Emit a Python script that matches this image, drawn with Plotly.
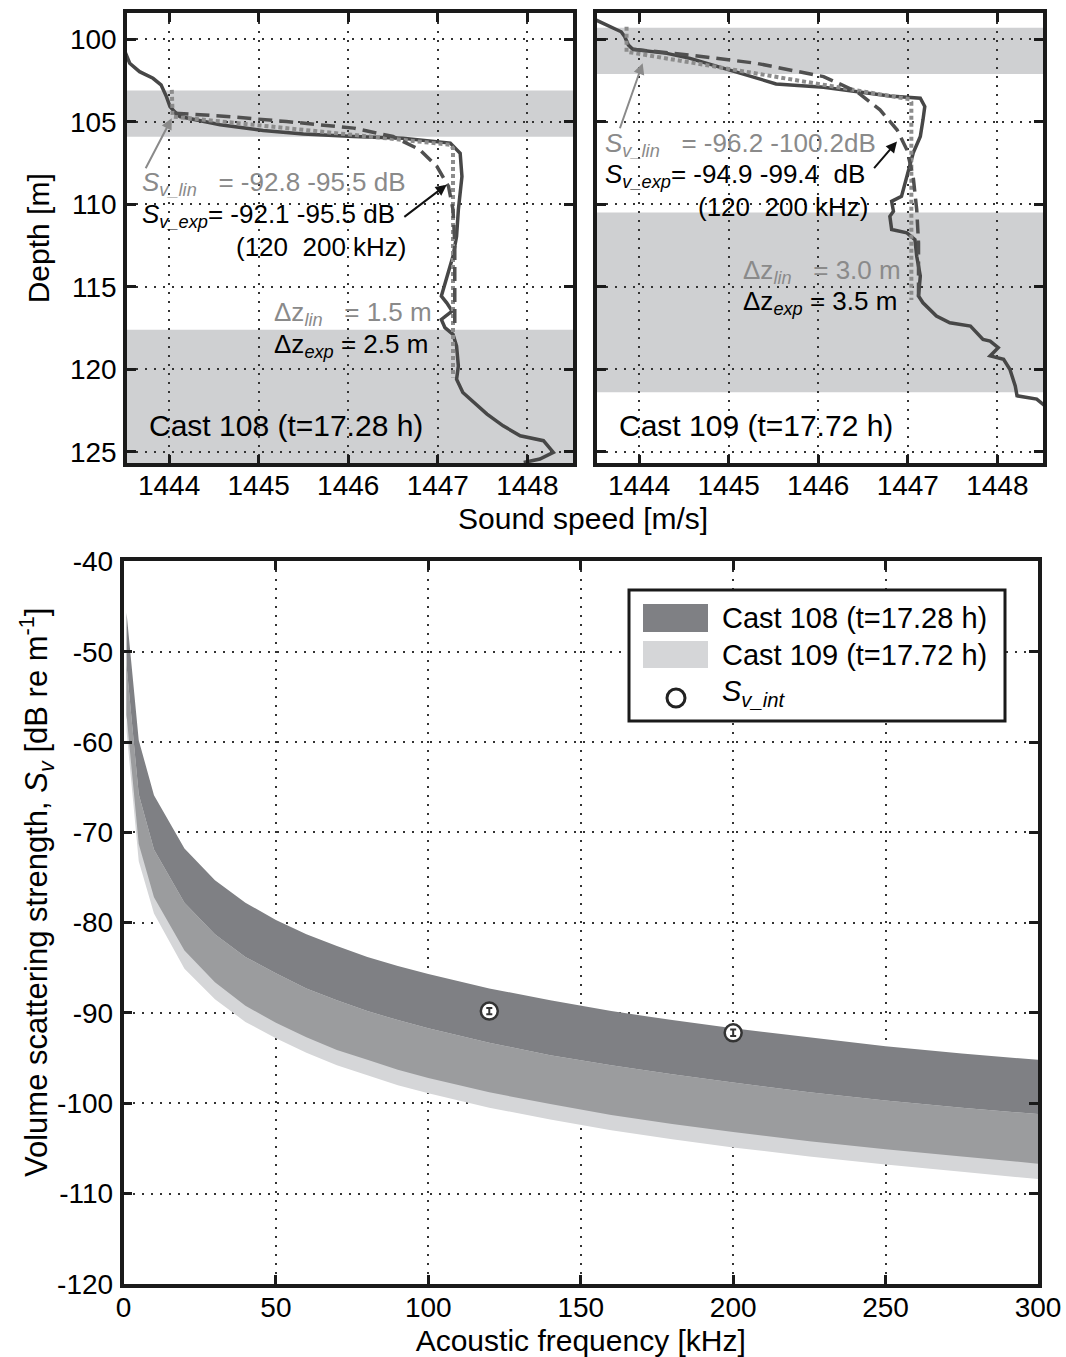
import plotly.graph_objects as go

W, H = 1066, 1357

# ---------------- Top panels: sound speed profiles ----------------
# Cast 108 measured profile (speed m/s, depth m)
c108 = [1443.45, 1443.50, 1443.56, 1443.67, 1443.82, 1443.91, 1443.97, 1444.01, 1444.06, 1444.12,
        1444.57, 1445.05, 1445.50, 1446.06, 1446.61, 1447.14, 1447.25, 1447.27, 1447.23, 1447.21,
        1447.17, 1447.12, 1447.04, 1447.10, 1447.16, 1447.04, 1447.08, 1447.17, 1447.21, 1447.23,
        1447.21, 1447.28, 1447.40, 1447.55, 1447.73, 1447.92, 1448.18, 1448.29, 1448.14, 1447.96]
z108 = [100.40, 100.65, 101.45, 101.96, 102.36, 102.76, 103.47, 104.07, 104.38, 104.68,
        105.18, 105.52, 105.73, 105.89, 105.99, 106.29, 106.90, 108.31, 110.32, 111.94,
        113.15, 114.15, 115.56, 115.97, 116.47, 116.98, 117.48, 117.88, 118.59, 119.80,
        120.60, 121.41, 122.02, 122.72, 123.43, 124.03, 124.33, 125.04, 125.44, 125.65]
# Cast 108 linear model
lin108_c = [1444.03, 1444.04, 1447.14, 1447.17, 1447.17]
lin108_z = [103.06, 104.68, 106.39, 106.60, 120.50]
# Cast 108 exponential model
exp108_c = [1444.06, 1444.57, 1445.31, 1446.06, 1446.50, 1446.80, 1446.99, 1447.12, 1447.17, 1447.19, 1447.19]
exp108_z = [104.48, 104.64, 104.98, 105.38, 105.89, 106.69, 107.70, 108.91, 110.32, 112.34, 117.40]

# Cast 109 measured profile
c109 = [1443.52, 1443.64, 1443.80, 1443.84, 1443.88, 1443.93, 1444.31, 1444.57, 1445.12, 1445.53,
        1446.06, 1446.43, 1446.80, 1447.14, 1447.19, 1447.17, 1447.14, 1447.06, 1446.99, 1446.93,
        1446.82, 1446.84, 1446.80, 1446.82, 1446.99, 1447.08, 1447.10, 1447.14, 1447.12, 1447.17,
        1447.32, 1447.47, 1447.70, 1447.79, 1447.84, 1447.92, 1448.01, 1447.92, 1448.07, 1448.14,
        1448.20, 1448.22, 1448.44, 1448.55]
z109 = [98.83, 99.13, 99.54, 99.84, 100.34, 100.60, 100.85, 101.15, 102.06, 102.70,
        102.90, 103.17, 103.43, 103.57, 104.07, 104.88, 105.89, 106.90, 108.31, 109.52,
        109.82, 110.42, 110.73, 111.53, 111.73, 112.14, 113.15, 114.35, 115.56, 115.97,
        116.77, 117.18, 117.38, 117.88, 118.19, 118.29, 118.69, 119.19, 119.40, 120.00,
        121.01, 121.61, 121.81, 122.30]
lin109_c = [1443.86, 1443.86, 1447.02, 1447.04, 1447.04]
lin109_z = [99.23, 100.75, 103.63, 103.80, 115.80]
exp109_c = [1443.93, 1444.57, 1445.31, 1446.06, 1446.43, 1446.69, 1446.88, 1446.99, 1447.06, 1447.10, 1447.12, 1447.12]
exp109_z = [100.60, 100.95, 101.45, 102.26, 103.17, 104.27, 105.48, 106.69, 108.31, 110.32, 112.34, 115.77]

# shaded depth layers (top, bottom)
band108 = [(103.1, 105.9), (117.6, 126.5)]
band109 = [(99.3, 102.1), (110.5, 121.4)]

speed_ticks = [1444, 1445, 1446, 1447, 1448]
depth_ticks = [100, 105, 110, 115, 120, 125]

# ---------------- Bottom panel: Sv vs frequency ----------------
freq = [1, 5, 10, 20, 30, 40, 50, 60, 70, 80, 90, 100, 120, 140, 160, 180, 200, 225, 250, 275, 300]
sv108_hi = [-45.7, -59.8, -65.9, -71.8, -75.3, -77.8, -79.7, -81.3, -82.6, -83.8, -84.8, -85.7,
            -87.3, -88.6, -89.8, -90.8, -91.7, -92.7, -93.7, -94.5, -95.2]
sv108_lo = [-57.0, -71.3, -77.2, -83.1, -86.6, -89.2, -91.1, -92.7, -94.1, -95.2, -96.3, -97.2,
            -98.8, -100.1, -101.3, -102.3, -103.2, -104.2, -105.1, -105.9, -106.7]
sv109_hi = [-51.5, -65.8, -71.9, -77.8, -81.3, -83.8, -85.6, -87.3, -88.6, -89.8, -90.8, -91.7,
            -93.3, -94.7, -95.8, -96.8, -97.7, -98.8, -99.7, -100.5, -101.2]
sv109_lo = [-58.8, -73.2, -79.0, -85.1, -88.5, -91.0, -92.8, -94.4, -95.8, -96.9, -98.0, -98.9,
            -100.5, -101.8, -103.0, -104.0, -104.9, -105.9, -106.8, -107.6, -108.4]
sv_int_f = [120, 200]
sv_int = [-89.8, -92.2]
sv_int_err = [0.35, 0.35]

sv_ticks = [-40, -50, -60, -70, -80, -90, -100, -110, -120]
f_ticks = [0, 50, 100, 150, 200, 250, 300]

# ---------------- styles ----------------
FONT = "Liberation Sans, Arial, sans-serif"
DARK = "#7f8084"
MID = "#9b9c9e"
LIGHT = "#d5d6d8"
BAND = "#cfd0d2"
GREYTXT = "#8a8a8a"
LINEC = "#474747"
AXC = "#1a1a1a"


def px_x(p):
    return p / W


def px_y(p):
    return 1 - p / H


fig = go.Figure()

# profiles
for (cs, zs, cl, zl, ce, ze, xa, ya) in [
    (c108, z108, lin108_c, lin108_z, exp108_c, exp108_z, "x", "y"),
    (c109, z109, lin109_c, lin109_z, exp109_c, exp109_z, "x2", "y2"),
]:
    fig.add_trace(go.Scatter(x=cs, y=zs, mode="lines", xaxis=xa, yaxis=ya,
                             line=dict(color=LINEC, width=3.5), showlegend=False))
    fig.add_trace(go.Scatter(x=cl, y=zl, mode="lines", xaxis=xa, yaxis=ya,
                             line=dict(color="#8c8c8c", width=4, dash="4px,3px"), showlegend=False))
    fig.add_trace(go.Scatter(x=ce, y=ze, mode="lines", xaxis=xa, yaxis=ya,
                             line=dict(color="#505050", width=3.5, dash="14px,7px"), showlegend=False))

# Sv bands
fig.add_trace(go.Scatter(x=freq + freq[::-1], y=sv108_hi + sv108_lo[::-1], fill="toself",
                         fillcolor=DARK, mode="lines", line=dict(width=0, color=DARK),
                         xaxis="x3", yaxis="y3", name="Cast 108 (t=17.28 h)", showlegend=False))
fig.add_trace(go.Scatter(x=freq + freq[::-1], y=sv109_hi + sv109_lo[::-1], fill="toself",
                         fillcolor=LIGHT, mode="lines", line=dict(width=0, color=LIGHT),
                         xaxis="x3", yaxis="y3", name="Cast 109 (t=17.72 h)", showlegend=False))
fig.add_trace(go.Scatter(x=freq + freq[::-1], y=sv109_hi + sv108_lo[::-1], fill="toself",
                         fillcolor=MID, mode="lines", line=dict(width=0, color=MID),
                         xaxis="x3", yaxis="y3", showlegend=False, hoverinfo="skip"))
fig.add_trace(go.Scatter(x=sv_int_f, y=sv_int, mode="markers", xaxis="x3", yaxis="y3",
                         marker=dict(size=17, color="white", line=dict(color="#333333", width=2.5)),
                         name="Sv_int", showlegend=False))
fig.add_trace(go.Scatter(x=sv_int_f, y=sv_int, mode="markers", xaxis="x3", yaxis="y3",
                         marker=dict(size=1, color="rgba(0,0,0,0)"),
                         error_y=dict(type="data", array=sv_int_err, color="#333333",
                                      thickness=2, width=3),
                         showlegend=False, hoverinfo="skip"))

axis_common = dict(showline=True, linewidth=3.5, linecolor=AXC, mirror="allticks",
                   ticks="inside", ticklen=9, tickwidth=3, tickcolor=AXC, automargin=False,
                   showgrid=True, gridcolor="#333333", gridwidth=1.5, griddash="2px,7px",
                   zeroline=False, tickfont=dict(size=28, color="black", family=FONT))

xr = [1443.53, 1448.51]
yr = [125.70, 98.42]
dom_x1 = [px_x(127), px_x(573)]
dom_x2 = [px_x(597), px_x(1043)]
dom_top = [px_y(463.3), px_y(13.3)]

fig.update_layout(
    template="none",
    width=W, height=H, margin=dict(l=0, r=0, t=0, b=0, autoexpand=False),
    paper_bgcolor="white", plot_bgcolor="white",
    font=dict(family=FONT, size=28, color="black"),
    showlegend=False,
    xaxis=dict(axis_common, domain=dom_x1, anchor="y", range=xr,
               tickvals=speed_ticks, ticktext=[str(v) for v in speed_ticks], ticklabelstandoff=-6),
    yaxis=dict(axis_common, domain=dom_top, anchor="x", range=yr,
               tickvals=depth_ticks, ticktext=[str(v) for v in depth_ticks], ticklabelstandoff=1,
               title=dict(text="Depth [m]", font=dict(size=30), standoff=12)),
    xaxis2=dict(axis_common, domain=dom_x2, anchor="y2", range=xr,
                tickvals=speed_ticks, ticktext=[str(v) for v in speed_ticks], ticklabelstandoff=-6),
    yaxis2=dict(axis_common, domain=dom_top, anchor="x2", range=yr,
                tickvals=depth_ticks, showticklabels=False),
    xaxis3=dict(axis_common, domain=[px_x(123.5), px_x(1038)], anchor="y3", range=[0, 300],
                tickvals=f_ticks, ticktext=[str(v) for v in f_ticks], ticklabelstandoff=-4,
                title=dict(text="Acoustic frequency [kHz]", font=dict(size=30), standoff=11)),
    yaxis3=dict(axis_common, domain=[px_y(1283.8), px_y(561.4)], anchor="x3", range=[-120, -40],
                tickvals=sv_ticks, ticktext=[str(v) for v in sv_ticks], ticklabelstandoff=1),
)

shapes = []
for bands, xd, ya in [(band108, "x domain", "y"), (band109, "x2 domain", "y2")]:
    for (z0, z1) in bands:
        shapes.append(dict(type="rect", xref=xd, yref=ya, x0=0, x1=1, y0=z0, y1=z1,
                           fillcolor=BAND, line=dict(width=0), layer="below"))

# manual legend box
shapes.append(dict(type="rect", xref="paper", yref="paper", x0=px_x(629), x1=px_x(1005),
                   y0=px_y(721), y1=px_y(590), fillcolor="white",
                   line=dict(color=AXC, width=3), layer="above"))
shapes.append(dict(type="rect", xref="paper", yref="paper", x0=px_x(643), x1=px_x(708),
                   y0=px_y(632), y1=px_y(604), fillcolor=DARK, line=dict(width=0), layer="above"))
shapes.append(dict(type="rect", xref="paper", yref="paper", x0=px_x(643), x1=px_x(708),
                   y0=px_y(668), y1=px_y(641), fillcolor=LIGHT, line=dict(width=0), layer="above"))
shapes.append(dict(type="circle", xref="paper", yref="paper", x0=px_x(667), x1=px_x(685),
                   y0=px_y(707), y1=px_y(689), fillcolor="white",
                   line=dict(color="#222222", width=3), layer="above"))
fig.update_layout(shapes=shapes)

NB = "\u00a0"
ann = []


def txt(x, y, text, xr_, yr_, color="black", size=26):
    ann.append(dict(x=x, y=y, xref=xr_, yref=yr_, text=text, showarrow=False,
                    xanchor="left", yanchor="middle", font=dict(size=size, color=color, family=FONT)))


# left panel texts
txt(1443.67, 108.75, "<i>S<sub>v_lin</sub></i>" + NB * 2 + " = -92.8 -95.5 dB", "x", "y", GREYTXT)
txt(1443.67, 110.65, "<i>S<sub>v_exp</sub></i>= -92.1 -95.5 dB", "x", "y")
txt(1444.72, 112.57, "(120" + NB + " 200 kHz)", "x", "y")
txt(1445.15, 116.60, "\u0394z<sub><i>lin</i></sub>" + NB * 2 + " = 1.5 m", "x", "y", GREYTXT)
txt(1445.15, 118.57, "\u0394z<sub><i>exp</i></sub> = 2.5 m", "x", "y")
txt(1443.75, 123.38, "Cast 108 (t=17.28 h)", "x", "y", size=30)
# right panel texts
txt(1443.60, 106.35, "<i>S<sub>v_lin</sub></i>" + NB * 2 + " = -96.2 -100.2dB", "x2", "y2", GREYTXT)
txt(1443.60, 108.27, "<i>S<sub>v_exp</sub></i>= -94.9 -99.4" + NB + " dB", "x2", "y2")
txt(1444.64, 110.15, "(120" + NB + " 200 kHz)", "x2", "y2")
txt(1445.14, 114.08, "\u0394z<sub><i>lin</i></sub>" + NB * 2 + " = 3.0 m", "x2", "y2", GREYTXT)
txt(1445.14, 115.96, "\u0394z<sub><i>exp</i></sub> = 3.5 m", "x2", "y2")
txt(1443.75, 123.38, "Cast 109 (t=17.72 h)", "x2", "y2", size=30)


def arrow(x, y, axv, ayv, xr_, yr_, color):
    ann.append(dict(x=x, y=y, ax=axv, ay=ayv, xref=xr_, yref=yr_, axref=xr_, ayref=yr_,
                    text="", showarrow=True, arrowhead=2, arrowsize=1.1, arrowwidth=2,
                    arrowcolor=color, standoff=0, startstandoff=0))


arrow(1444.03, 104.78, 1443.73, 107.9, "x", "y", GREYTXT)
arrow(1447.10, 108.81, 1446.61, 110.83, "x", "y", "#111111")
arrow(1444.04, 101.45, 1443.78, 105.48, "x2", "y2", GREYTXT)
arrow(1446.88, 106.19, 1446.61, 107.90, "x2", "y2", "#111111")

# shared x title for top panels
ann.append(dict(x=px_x(583), y=px_y(518), xref="paper", yref="paper", text="Sound speed [m/s]",
                showarrow=False, xanchor="center", yanchor="middle", font=dict(size=30, family=FONT)))

# y title of the bottom panel (placed off-centre as in the original)
ann.append(dict(x=px_x(36), y=px_y(893), xref="paper", yref="paper", textangle=-90,
                text="Volume scattering strength, <i>S<sub>v</sub></i> [dB re m<sup>-1</sup>]",
                showarrow=False, xanchor="center", yanchor="middle", font=dict(size=31, family=FONT)))

# legend texts
for yy, t in [(618, "Cast 108 (t=17.28 h)"), (655, "Cast 109 (t=17.72 h)"),
              (693, "<i>S<sub>v_int</sub></i>")]:
    ann.append(dict(x=px_x(720), y=px_y(yy), xref="paper", yref="paper", text=t, showarrow=False,
                    xanchor="left", yanchor="middle", font=dict(size=29, family=FONT)))

fig.update_layout(annotations=ann)

fig.write_html("out.html")
